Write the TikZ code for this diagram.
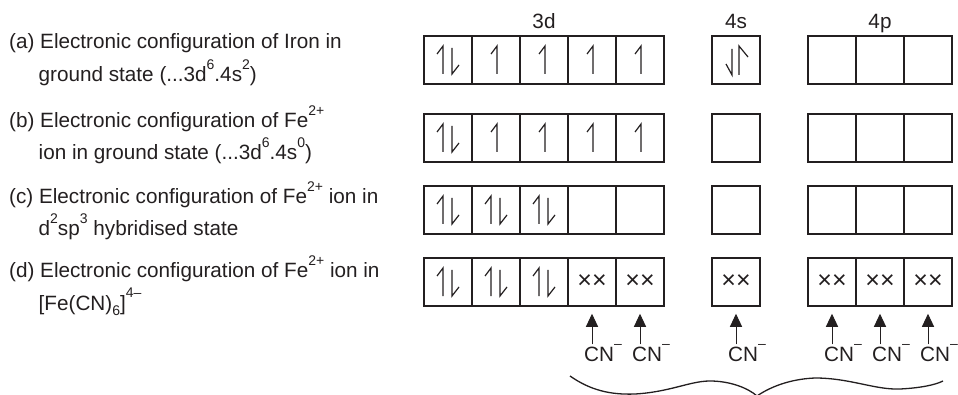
\documentclass[tikz,border=0pt]{standalone}
\usepackage{fontspec}
\setmainfont{Liberation Sans}
\usepackage{xcolor}
\usetikzlibrary{arrows.meta, positioning}
\definecolor{orbink}{RGB}{35,31,32}
\newcommand{\upsc}[1]{\raisebox{0.6em}{\fontsize{14}{14}\selectfont #1}}
\newcommand{\dnsc}[1]{\raisebox{-0.25em}{\fontsize{14}{14}\selectfont #1}}

\begin{document}
\begin{tikzpicture}[
  x=1pt, y=-1pt,
  orb/.style={rectangle, draw=orbink, line width=1.5pt, minimum width=48pt, minimum height=48pt, inner sep=0pt, font=\fontsize{25}{25}\selectfont, text=orbink},
  txt/.style={anchor=base west, inner sep=0pt, font=\fontsize{20.7}{24}\selectfont, text=orbink},
  shell/.style={anchor=base, inner sep=0pt, font=\fontsize{20.7}{24}\selectfont, text=orbink},
  lig/.style={-{Triangle[width=12pt, length=13pt]}, line width=1pt, draw=orbink, shorten >=7pt},
  harp/.style={line width=1.2pt, draw=orbink},
  brc/.style={line width=1.3pt, draw=orbink},
  pics/spinpair/.style={code={\draw[harp] (-5,14) -- (-5,-14) -- (-11,-6); \draw[harp] (4,-12) -- (4,14) -- (11,5);}},
  pics/spinup/.style={code={\draw[harp] (1,14) -- (1,-14) -- (-5,-6);}},
  pics/spinflip/.style={code={\draw[harp] (-4,-11) -- (-4,15) -- (-10,4); \draw[harp] (3,15) -- (3,-14) -- (12,-3);}}
]
\useasboundingbox (0,0) rectangle (958,395);

\node[txt] (la1) at (9,49) {(a) Electronic configuration of Iron in};
\node[txt] (la2) at (38.5,82) {ground state (...3d\upsc{6}.4s\upsc{2})};
\node[txt] (lb1) at (9,128) {(b) Electronic configuration of Fe\upsc{2+}};
\node[txt] (lb2) at (38.5,160) {ion in ground state (...3d\upsc{6}.4s\upsc{0})};
\node[txt] (lc1) at (9,204) {(c) Electronic configuration of Fe\upsc{2+} ion in};
\node[txt] (lc2) at (38.5,236) {d\upsc{2}sp\upsc{3} hybridised state};
\node[txt] (ld1) at (9,278) {(d) Electronic configuration of Fe\upsc{2+} ion in};
\node[txt] (ld2) at (38.5,310) {[Fe(CN)\dnsc{6}]\upsc{4–}};

\node[shell] (sh3d) at (544,29) {3d};
\node[shell] (sh4s) at (736,29) {4s};
\node[shell] (sh4p) at (880,29) {4p};

\foreach \r/\y in {a/60,b/138,c/210} {
  \foreach \i/\x in {1/448,2/496,3/544,4/592,5/640} \node[orb] (\r-d\i) at (\x,\y) {};
  \node[orb] (\r-s) at (736,\y) {};
  \foreach \i/\x in {1/832,2/880,3/928} \node[orb] (\r-p\i) at (\x,\y) {};
}
\foreach \i/\x in {1/448,2/496,3/544} \node[orb] (d-d\i) at (\x,282) {};
\foreach \bx/\x in {d-d4/592,d-d5/640,d-s/736,d-p1/832,d-p2/880,d-p3/928} \node[orb] (\bx) at (\x,282) {××};

\foreach \bx in {a-d1,b-d1,c-d1,c-d2,c-d3,d-d1,d-d2,d-d3} \pic at (\bx.center) {spinpair};
\foreach \bx in {a-d2,a-d3,a-d4,a-d5,b-d2,b-d3,b-d4,b-d5} \pic at (\bx.center) {spinup};
\pic at (a-s.center) {spinflip};

\foreach \bx/\x in {d-d4/592,d-d5/640,d-s/736,d-p1/832,d-p2/880,d-p3/928} {
  \node[txt] (cn-\bx) at (\x-8,361) {CN\upsc{–}};
  \draw[lig] (cn-\bx.north -| \bx) -- (\bx);
}

\draw[brc] (570,376) .. controls (590,390) and (610,395) .. (635,394)
  .. controls (670,392) and (690,381) .. (710,381)
  .. controls (730,381) and (748,388) .. (757,396)
  .. controls (770,387) and (790,379) .. (815,378)
  .. controls (850,378) and (875,390) .. (900,389)
  .. controls (920,388) and (935,385) .. (943,381);
\end{tikzpicture}
\end{document}
